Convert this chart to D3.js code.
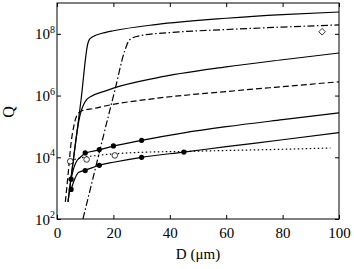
<!DOCTYPE html>
<html><head><meta charset="utf-8">
<script src="https://cdn.jsdelivr.net/npm/d3@7"></script>
<style>body{margin:0;background:#fff}svg{display:block}svg text{font-family:"Liberation Serif","DejaVu Serif",serif !important;fill:#000}</style>
</head><body><svg id="c" width="354" height="269"></svg>
<script>
// Data (D in µm, Q values)
const xTicks = [0, 20, 40, 60, 80, 100];
const yTickExp = [2, 4, 6, 8];
const solidTopD = [3.9, 6, 8.5, 10.9, 11.5, 12.5, 17, 20, 35, 60, 80, 100];
const solidTopQ = [3.6e2, 1.15e4, 6.9e5, 4.7e7, 6.6e7, 7.9e7, 1.1e8, 1.26e8, 2.0e8, 3.2e8, 4.2e8, 5.1e8];
const solidMidD = [3.9, 6, 7, 7.8, 8.5, 9.3, 10.5, 12, 17, 20, 35, 60, 80, 100];
const solidMidQ = [3.6e2, 1.15e4, 5.6e4, 1.6e5, 3.0e5, 4.8e5, 7.4e5, 9.3e5, 1.4e6, 1.74e6, 3.7e6, 8.5e6, 1.45e7, 2.4e7];
const dashedD = [2.96, 4.0, 4.9, 6.0, 7.4, 9.2, 13, 17, 35, 60, 80, 100];
const dashedQ = [3.6e2, 3.2e3, 2.45e4, 1.07e5, 2.6e5, 3.3e5, 3.8e5, 4.6e5, 8.1e5, 1.35e6, 1.95e6, 2.8e6];
const dashDotD = [9.2, 12, 16.8, 20.6, 24, 25.3, 26.5, 30, 40, 60, 80, 100];
const dashDotQ = [1.0e2, 1.1e3, 6.6e4, 1.6e6, 2.8e7, 5.6e7, 7.2e7, 8.9e7, 1.1e8, 1.38e8, 1.66e8, 1.95e8];
const curveAD = [5, 6, 7, 8.2, 10, 15, 20, 30, 45, 60, 80, 100];
const curveAQ = [1.95e3, 4.6e3, 7.6e3, 9.8e3, 1.35e4, 1.74e4, 2.3e4, 3.55e4, 6.2e4, 9.8e4, 1.66e5, 2.75e5];
const curveBD = [5, 6.4, 7.6, 10, 15, 20, 30, 45, 60, 80, 100];
const curveBQ = [9.1e2, 2.1e3, 3.2e3, 3.8e3, 5.5e3, 6.9e3, 1.0e4, 1.48e4, 2.2e4, 3.7e4, 6.3e4];
const dottedD = [4.8, 7, 10, 15, 20, 30, 45, 60, 80, 97];
const dottedQ = [7.6e3, 8.9e3, 1.02e4, 1.17e4, 1.29e4, 1.45e4, 1.55e4, 1.66e4, 1.82e4, 2.0e4];
const dotsAD = [5, 10, 15, 20, 30];
const dotsAQ = [1.95e3, 1.38e4, 1.78e4, 2.34e4, 3.55e4];
const dotsBD = [5, 10, 15, 30, 45];
const dotsBQ = [9.1e2, 3.7e3, 5.5e3, 1.0e4, 1.48e4];
const openD = [4.7, 10.5, 20.5];
const openQ = [7.4e3, 8.5e3, 1.15e4];
const diamondD = [94];
const diamondQ = [1.17e8];

const svg = d3.select("#c");
const L = 57, T = 3, W = 282, H = 216;
const x = d3.scaleLinear().domain([0, 100]).range([L, L + W]);
const y = d3.scaleLog().domain([1e2, 1e9]).range([T + H, T]);

svg.append("defs").append("clipPath").attr("id", "clip")
  .append("rect").attr("x", L).attr("y", T).attr("width", W).attr("height", H);

const zip = (a, b) => a.map((d, i) => [d, b[i]]);
const line = d3.line().x(d => x(d[0])).y(d => y(d[1])).curve(d3.curveMonotoneX);
const g = svg.append("g").attr("clip-path", "url(#clip)");
function drawLine(D, Q, dash) {
  g.append("path").datum(zip(D, Q)).attr("d", line)
    .attr("fill", "none").attr("stroke", "#000").attr("stroke-width", 1.2)
    .attr("stroke-dasharray", dash);
}
drawLine(solidTopD, solidTopQ, null);
drawLine(solidMidD, solidMidQ, null);
drawLine(dashedD, dashedQ, "6,3");
drawLine(dashDotD, dashDotQ, "7,2.5,1.5,2.5");
drawLine(curveAD, curveAQ, null);
drawLine(curveBD, curveBQ, null);
drawLine(dottedD, dottedQ, "1.5,2.5");

g.selectAll(".dA").data(zip(dotsAD, dotsAQ).concat(zip(dotsBD, dotsBQ))).enter()
  .append("circle").attr("cx", d => x(d[0])).attr("cy", d => y(d[1])).attr("r", 2.6).attr("fill", "#000");
g.selectAll(".op").data(zip(openD, openQ)).enter()
  .append("circle").attr("cx", d => x(d[0])).attr("cy", d => y(d[1])).attr("r", 2.8)
  .attr("fill", "#fff").attr("stroke", "#000").attr("stroke-width", 0.8);
g.selectAll(".dm").data(zip(diamondD, diamondQ)).enter()
  .append("path").attr("transform", d => `translate(${x(d[0])},${y(d[1])})`)
  .attr("d", "M0,-3.3L3.3,0L0,3.3L-3.3,0Z").attr("fill", "#fff").attr("stroke", "#000").attr("stroke-width", 0.8);

// Frame
svg.append("rect").attr("x", L).attr("y", T).attr("width", W).attr("height", H)
  .attr("fill", "none").attr("stroke", "#000").attr("stroke-width", 1);

// Axes
const yTicks = yTickExp.map(e => Math.pow(10, e));
const ax = svg.append("g").attr("transform", `translate(0,${T + H})`)
  .call(d3.axisBottom(x).tickValues(xTicks).tickSizeInner(-4).tickSizeOuter(0).tickPadding(8));
svg.append("g").attr("transform", `translate(0,${T})`)
  .call(d3.axisTop(x).tickValues(xTicks).tickSizeInner(-4).tickSizeOuter(0).tickFormat(""));
svg.append("g").attr("transform", `translate(${L},0)`)
  .call(d3.axisLeft(y).tickValues(yTicks).tickSizeInner(-4).tickSizeOuter(0).tickFormat(""));
svg.append("g").attr("transform", `translate(${L + W},0)`)
  .call(d3.axisRight(y).tickValues(yTicks).tickSizeInner(-4).tickSizeOuter(0).tickFormat(""));
svg.selectAll(".domain").remove();
svg.selectAll(".tick line").attr("stroke", "#000");
ax.attr("font-family", null);
ax.selectAll("text").attr("font-size", 15).style("font-family", "'Liberation Serif', serif").attr("fill", "#000");

// y tick labels with superscripts
yTickExp.forEach((e, i) => {
  svg.append("text").attr("x", 50).attr("y", y(yTicks[i]) + 5.5)
    .attr("text-anchor", "end").attr("font-size", 15).text("10");
  svg.append("text").attr("x", 50).attr("y", y(yTicks[i]) - 1)
    .attr("font-size", 10).text(e);
});

svg.append("text").attr("x", x(50)).attr("y", 259).attr("text-anchor", "middle")
  .attr("font-size", 15).text("D (μm)");
svg.append("text").attr("transform", "translate(14,112) rotate(-90)").attr("text-anchor", "middle")
  .attr("font-size", 16).text("Q");
</script></body></html>
